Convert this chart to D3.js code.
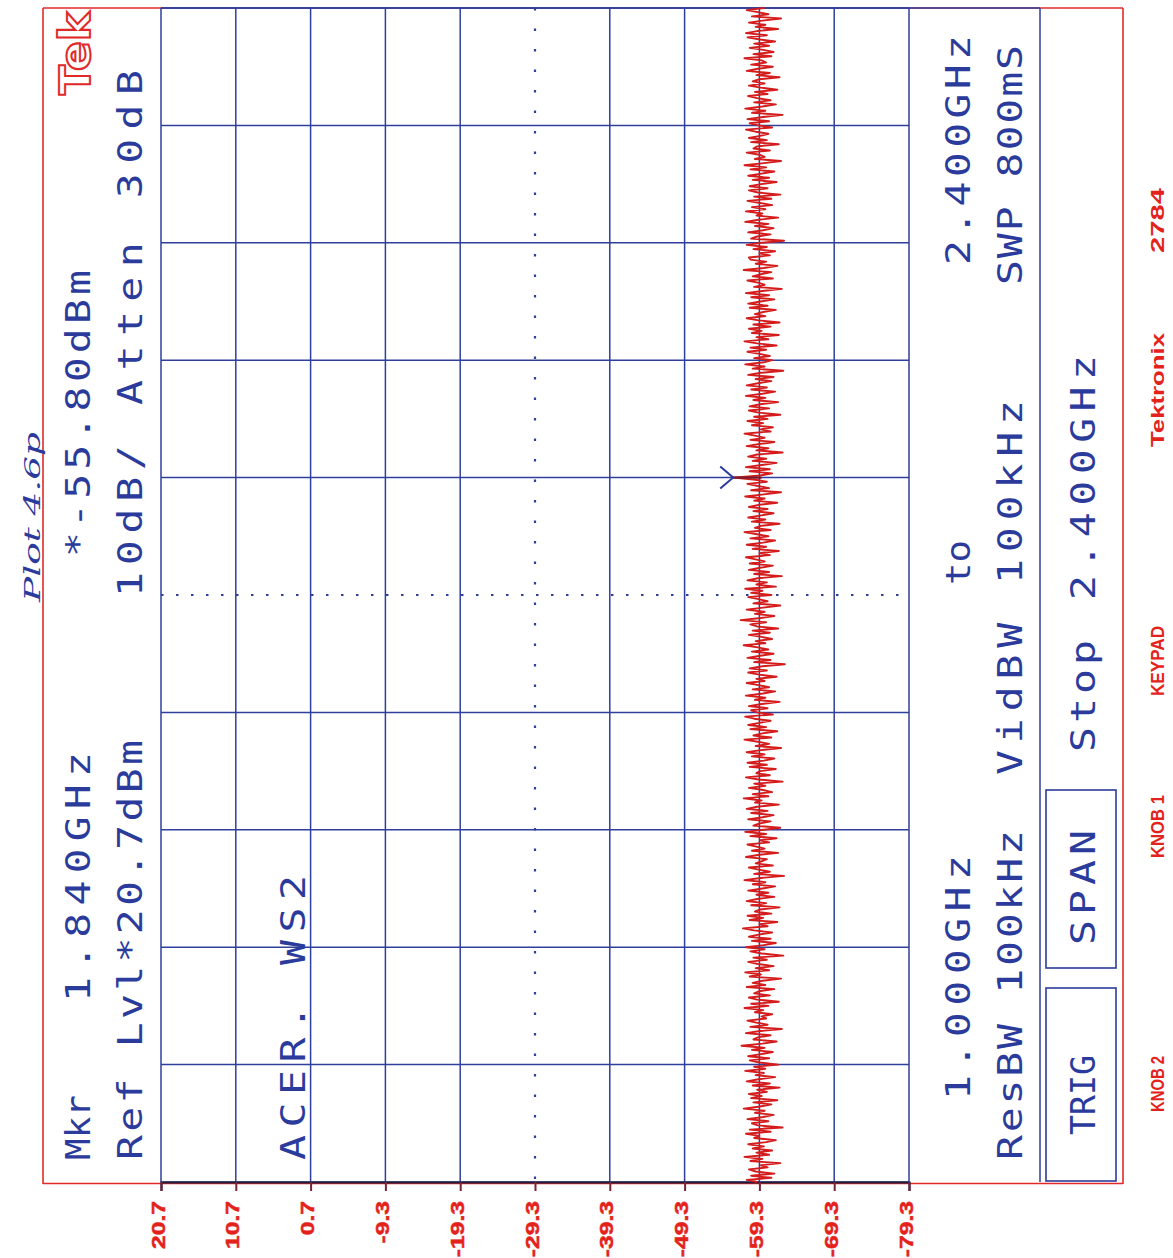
<!DOCTYPE html>
<html>
<head>
<meta charset="utf-8">
<script src="https://cdn.jsdelivr.net/npm/d3@7"></script>
<style>
  html, body { margin: 0; padding: 0; background: #ffffff; }
  svg { display: block; }
</style>
</head>
<body>
<svg id="chart" width="1173" height="1258"></svg>
<script>
// ---------------- DATA ----------------
const startFreqGHz = 1.0;
const stopFreqGHz = 2.4;
const refLevelDbm = 20.7;
const bottomLevelDbm = -79.3;
const markerFreqGHz = 1.84;
const markerLevelDbm = -55.8;

const ampTicks = [20.7, 10.7, 0.7, -9.3, -19.3, -29.3, -39.3, -49.3, -59.3, -69.3, -79.3];
const ampTickLabels = ["20.7", "10.7", "0.7", "-9.3", "-19.3", "-29.3", "-39.3", "-49.3", "-59.3", "-69.3", "-79.3"];
const freqDivisions = [1.00, 1.14, 1.28, 1.42, 1.56, 1.70, 1.84, 1.98, 2.12, 2.26, 2.40];

// trace level (dBm), 1.000 GHz -> 2.400 GHz, 2.5 MHz steps (561 points)
const traceDbm = [
 -59.0,-57.6,-60.9,-58.2,-61.3,-58.8,-57.9,-60.4,-59.5,-62.1,-58.1,-59.7,-57.3,-60.6,-58.9,-61.0,-58.4,-59.9,-57.8,-60.2,
 -61.5,-58.6,-59.3,-57.5,-60.8,-58.0,-62.4,-59.1,-58.3,-60.5,-57.7,-59.8,-61.2,-58.7,-60.0,-57.2,-59.4,-60.9,-58.5,-61.7,
 -58.2,-59.6,-57.9,-60.3,-59.0,-62.0,-58.4,-60.7,-57.6,-59.2,-61.4,-58.8,-59.9,-57.4,-60.1,-58.6,-61.8,-59.3,-58.0,-60.6,
 -57.8,-59.5,-61.1,-58.3,-60.0,-56.9,-59.7,-61.6,-58.5,-59.1,-60.8,-57.5,-59.4,-62.3,-58.1,-60.4,-58.9,-57.7,-60.2,-59.6,
 -61.0,-58.7,-59.8,-57.3,-60.5,-58.2,-61.9,-59.0,-57.9,-60.7,-58.6,-59.3,-61.3,-57.6,-60.1,-58.4,-59.7,-62.2,-58.0,-59.5,
 -57.4,-60.6,-58.8,-61.2,-59.1,-57.8,-60.3,-58.5,-62.5,-59.6,-58.1,-60.0,-57.5,-59.9,-61.5,-58.3,-60.8,-57.9,-59.2,-61.0,
 -58.6,-57.1,-60.4,-59.3,-61.7,-58.0,-59.8,-57.7,-60.9,-58.7,-59.4,-62.0,-58.2,-60.2,-57.6,-59.0,-61.3,-58.9,-60.5,-57.8,
 -59.7,-61.4,-58.4,-60.1,-57.3,-59.5,-62.6,-58.6,-60.7,-59.2,-57.9,-61.1,-58.8,-59.6,-60.3,-57.5,-59.1,-61.8,-58.3,-60.0,
 -58.9,-57.7,-60.6,-59.4,-61.6,-58.1,-60.2,-57.4,-59.9,-62.1,-58.5,-59.3,-60.8,-57.8,-59.7,-61.2,-58.2,-60.4,-57.6,-59.0,
 -61.9,-58.7,-59.6,-57.2,-60.5,-58.4,-61.0,-59.8,-57.9,-60.1,-58.6,-62.4,-59.2,-57.5,-60.7,-58.9,-59.4,-61.5,-58.0,-60.3,
 -57.7,-59.9,-61.3,-58.3,-60.0,-57.6,-59.5,-62.2,-58.8,-60.6,-59.1,-57.3,-60.9,-58.5,-59.7,-61.7,-58.1,-60.2,-57.8,-59.3,
 -60.8,-58.6,-57.4,-61.1,-59.0,-58.2,-60.4,-57.9,-59.6,-62.0,-58.7,-60.1,-57.5,-59.8,-61.4,-58.4,-60.6,-59.2,-57.6,-60.0,
 -58.9,-61.6,-59.3,-57.8,-60.3,-58.0,-59.7,-62.7,-58.6,-60.8,-57.7,-59.4,-61.2,-58.3,-60.5,-59.1,-57.2,-60.1,-58.8,-61.0,
 -59.6,-57.9,-60.7,-58.4,-61.8,-59.0,-58.1,-60.2,-56.8,-59.5,-61.3,-58.7,-60.0,-57.6,-59.8,-62.1,-58.5,-60.4,-59.2,-57.8,
 -60.9,-58.2,-59.7,-57.4,-61.5,-58.9,-60.3,-57.7,-59.1,-62.3,-58.6,-60.6,-57.9,-59.4,-61.1,-58.0,-60.0,-58.8,-57.5,-60.7,
 -59.3,-61.9,-58.4,-60.2,-57.6,-59.8,-61.4,-58.1,-60.5,-59.0,-57.3,-60.8,-58.7,-59.5,-62.0,-58.3,-60.1,-57.8,-59.6,-61.2,
 -58.5,-60.4,-57.9,-59.2,-61.7,-58.6,-60.0,-57.4,-59.9,-62.2,-58.2,-60.6,-59.1,-57.7,-60.3,-58.8,-55.8,-59.4,-61.0,-58.0,
 -60.7,-57.5,-59.6,-61.6,-58.4,-60.2,-57.8,-59.0,-62.4,-58.9,-60.5,-57.6,-59.3,-61.3,-58.1,-60.0,-58.7,-57.3,-60.8,-59.5,
 -61.1,-58.3,-59.8,-57.7,-60.4,-58.6,-62.1,-59.2,-57.9,-60.6,-58.0,-59.4,-61.8,-58.5,-60.1,-57.5,-59.7,-61.4,-58.2,-60.3,
 -57.6,-59.1,-60.9,-58.8,-61.2,-57.8,-59.5,-62.5,-58.4,-60.0,-57.4,-59.9,-61.0,-58.6,-60.7,-59.3,-57.7,-60.2,-58.1,-61.6,
 -59.0,-57.3,-60.5,-58.9,-61.9,-58.3,-59.6,-57.9,-60.8,-58.5,-62.0,-59.2,-57.6,-60.1,-58.7,-59.8,-61.5,-58.0,-60.4,-57.8,
 -59.4,-61.3,-58.2,-60.6,-57.5,-59.7,-62.3,-58.6,-60.0,-59.1,-57.7,-61.1,-58.4,-59.5,-60.9,-57.2,-59.9,-61.7,-58.8,-60.2,
 -58.1,-57.9,-60.7,-59.3,-61.4,-58.5,-60.3,-57.6,-59.6,-62.6,-58.2,-59.0,-60.8,-57.8,-59.8,-61.2,-58.7,-60.5,-57.4,-59.2,
 -61.8,-58.9,-59.7,-57.5,-60.1,-58.3,-61.0,-59.4,-57.7,-60.9,-58.6,-62.1,-59.1,-57.9,-60.4,-58.0,-59.5,-61.6,-58.4,-60.6,
 -57.8,-59.6,-61.3,-58.1,-60.2,-57.3,-59.9,-62.2,-58.7,-60.0,-59.3,-57.6,-60.7,-58.5,-59.0,-61.9,-58.2,-60.3,-57.9,-59.4,
 -60.5,-58.8,-57.5,-61.0,-59.2,-58.0,-60.6,-57.7,-59.8,-62.4,-58.3,-60.1,-57.4,-59.7,-61.5,-58.6,-60.8,-59.0,-57.8,-60.4,
 -58.7,-61.7,-59.5,-57.9,-60.0,-58.4,-59.3,-62.0,-58.9,-60.7,-57.6,-59.1,-61.1,-58.2,-60.2,-59.6,-57.3,-60.9,-58.5,-61.2,
 -59.8,-58.0,-60.6,-58.6,-61.4,-59.4,-57.7,-60.3,-57.5,-59.0,-61.8,-58.8,-60.1,-57.9,-59.7,-62.2,-58.3,-60.5,-59.1,-57.6,
 -60.0
];
const traceStepGHz = 0.0025;

// screen annotations (instrument readout)
const readoutBlue = [
  "Mkr", "1.840GHz", "*-55.80dBm",
  "Ref Lvl*20.7dBm", "10dB/", "Atten 30dB",
  "ACER. WS2",
  "1.000GHz", "to", "2.400GHz",
  "ResBW 100kHz", "VidBW 100kHz", "SWP 800mS",
  "TRIG", "SPAN", "Stop", "2.400GHz"
];
const softKeys = ["KNOB 2", "KNOB 1", "KEYPAD", "Tektronix", "2784"];
const handNote = "Plot 4.6p";
const logoText = "Tek";

// ---------------- LAYOUT ----------------
const W = 1173, H = 1258;
const gridLeft = 161, gridRight = 909, gridTop = 8, gridBottom = 1182;
const BLUE = "#2b3b9c", GRID = "#2f3f9c", RED = "#e02a2a", TRACE = "#d41c1c", LRED = "#e4221c";

const svg = d3.select("#chart");
svg.append("rect").attr("width", W).attr("height", H).attr("fill", "#fff");

// amplitude runs left->right (rotated plot), frequency runs bottom->top
const x = d3.scaleLinear().domain([refLevelDbm, bottomLevelDbm]).range([gridLeft, gridRight]);
const y = d3.scaleLinear().domain([startFreqGHz, stopFreqGHz]).range([gridBottom, gridTop]);

// red outer frame
const frame = svg.append("g").attr("fill", "none").attr("stroke", RED).attr("stroke-width", 1.6);
frame.append("line").attr("x1", 43).attr("x2", 43).attr("y1", 8).attr("y2", 1184);
frame.append("line").attr("x1", 1123).attr("x2", 1123).attr("y1", 8).attr("y2", 1184);
frame.append("line").attr("x1", 43).attr("x2", 1123).attr("y1", 8).attr("y2", 8);
frame.append("line").attr("x1", 43).attr("x2", 1123).attr("y1", 1183.5).attr("y2", 1183.5);

// grid
const grid = svg.append("g").attr("stroke", GRID).attr("stroke-width", 1.5).attr("fill", "none");
grid.selectAll("line.v").data(ampTicks).join("line")
  .attr("x1", d => x(d)).attr("x2", d => x(d))
  .attr("y1", gridTop).attr("y2", gridBottom)
  .attr("stroke-dasharray", (d, i) => i === 5 ? "2.5,18" : null)
  .attr("stroke-width", (d, i) => i === 5 ? 2.2 : 1.5);
grid.selectAll("line.h").data(freqDivisions).join("line")
  .attr("x1", gridLeft).attr("x2", gridRight)
  .attr("y1", d => y(d)).attr("y2", d => y(d))
  .attr("stroke-dasharray", (d, i) => i === 5 ? "2.5,12.5" : null)
  .attr("stroke-width", (d, i) => i === 5 ? 2.2 : 1.5);
// readout panel separators
grid.append("line").attr("x1", gridLeft).attr("x2", 1040).attr("y1", gridTop).attr("y2", gridTop);
grid.append("line").attr("x1", 1040).attr("x2", 1040).attr("y1", gridTop).attr("y2", gridBottom);

// soft key boxes
const boxes = svg.append("g").attr("fill", "none").attr("stroke", BLUE).attr("stroke-width", 1.6);
boxes.append("rect").attr("x", 1046).attr("y", 988).attr("width", 70).attr("height", 193);
boxes.append("rect").attr("x", 1046).attr("y", 790).attr("width", 70).attr("height", 178);

// amplitude axis at the bottom
const axis = d3.axisBottom(x).tickValues(ampTicks).tickSize(9).tickPadding(0)
  .tickFormat((d, i) => ampTickLabels[i]);
const ax = svg.append("g").attr("transform", `translate(0,${gridBottom})`).call(axis);
ax.select(".domain").attr("stroke", "#1d1d3a").attr("stroke-width", 2.2);
ax.selectAll(".tick line").attr("stroke", "#7a2238").attr("stroke-width", 2);
ax.selectAll(".tick text")
  .attr("transform", "translate(3,19) rotate(-90) scale(1.3,1)")
  .attr("x", 0).attr("y", 0).attr("dy", 0)
  .attr("text-anchor", "end")
  .attr("fill", LRED)
  .attr("stroke", LRED).attr("stroke-width", 0.5)
  .attr("font-family", "'Liberation Sans Narrow', 'Liberation Sans', sans-serif")
  .attr("font-weight", "bold")
  .attr("font-size", 19);

// trace
const trace = traceDbm.map((v, i) => ({ f: startFreqGHz + i * traceStepGHz, v }));
svg.append("path").datum(trace)
  .attr("fill", "none").attr("stroke", TRACE).attr("stroke-width", 1.9)
  .attr("stroke-linejoin", "round")
  .attr("d", d3.line().x(d => x(d.v)).y(d => y(d.f)));

// marker
const mx = x(markerLevelDbm), my = y(markerFreqGHz);
svg.append("line").attr("x1", mx).attr("x2", x(-59.6)).attr("y1", my).attr("y2", my)
  .attr("stroke", "#7a1a2a").attr("stroke-width", 2.2);
svg.append("path")
  .attr("d", `M${mx - 13},${my - 11} L${mx},${my} L${mx - 13},${my + 11}`)
  .attr("fill", "none").attr("stroke", BLUE).attr("stroke-width", 2);

// rotated readout text helper: fits the string between y0 (start, bottom) and y1 (end, top)
function vtext(str, xb, y0, y1, o) {
  const t = svg.append("text")
    .attr("transform", `translate(${xb},${y0}) rotate(-90)`)
    .attr("x", 0).attr("y", 0)
    .attr("fill", o.fill)
    .attr("font-family", o.family)
    .attr("font-size", o.size)
    .attr("font-weight", o.weight || "normal")
    .attr("font-style", o.style || "normal")
    .text(str);
  if (o.stroke) t.attr("stroke", o.stroke).attr("stroke-width", o.sw);
  const span = y0 - y1;
  if (o.adjust === "spacingAndGlyphs") {
    t.attr("textLength", span).attr("lengthAdjust", "spacingAndGlyphs");
  } else {
    const natural = t.node().getComputedTextLength() || span;
    let sx = Math.min(o.maxStretch || 1, span / natural);
    if (sx < 1) sx = span / natural;
    t.attr("transform", `translate(${xb},${y0}) rotate(-90) scale(${sx},1)`)
     .attr("textLength", span / sx).attr("lengthAdjust", "spacing");
  }
  return t;
}
const mono = { fill: BLUE, family: "'DejaVu Sans Mono', monospace", size: 34, maxStretch: 1.22 };
const blueLayout = [
  [90, 1160, 1095], [90, 1002, 752], [90, 557, 270],
  [142, 1160, 740], [142, 597, 445], [142, 405, 70],
  [305, 1160, 875],
  [970, 1100, 855], [970, 585, 540], [970, 265, 35],
  [1022, 1160, 830], [1022, 775, 400], [1022, 285, 45],
  [1095, 1135, 1055], [1095, 945, 830], [1095, 752, 640], [1095, 600, 355]
];
readoutBlue.forEach((s, i) => {
  const [xb, y0, y1] = blueLayout[i];
  vtext(s, xb, y0, y1, mono);
});

// soft key labels (red, outside frame)
const keyLayout = [[1164, 1112, 1056], [1164, 858, 795], [1164, 696, 626], [1164, 447, 333], [1164, 253, 188]];
softKeys.forEach((s, i) => {
  const [xb, y0, y1] = keyLayout[i];
  vtext(s, xb, y0, y1, { fill: LRED, family: "'Liberation Sans Narrow', 'Liberation Sans', sans-serif", size: 18, weight: "bold", adjust: "spacingAndGlyphs" });
});

// logo
vtext(logoText, 90, 95, 12, { fill: "#fff", stroke: RED, sw: 2, family: "'DejaVu Sans', sans-serif", size: 42, weight: "bold", adjust: "spacingAndGlyphs" });

// handwritten note
vtext(handNote, 40, 602, 432, { fill: BLUE, family: "'DejaVu Serif', serif", size: 22, style: "italic", adjust: "spacingAndGlyphs" });
</script>
</body>
</html>
